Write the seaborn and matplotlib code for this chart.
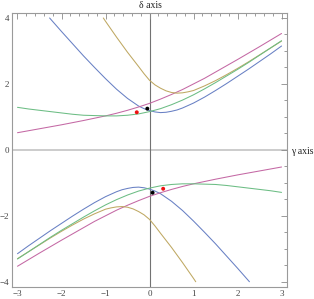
import matplotlib
matplotlib.use("Agg")
import matplotlib.pyplot as plt
from matplotlib.ticker import MultipleLocator
import seaborn as sns

# upper / lower branches of each curve (gamma, delta)
blue_up_g = [-2.27, -2.0, -1.75, -1.5, -1.25, -1.0, -0.75, -0.5, -0.25, -0.125, 0.0, 0.125,
             0.25, 0.375, 0.5, 0.625, 0.75, 1.0, 1.25, 1.5, 1.75, 2.0, 2.25, 2.5, 2.75, 3.0]
blue_up_d = [4.00, 3.59, 3.22, 2.85, 2.50, 2.16, 1.84, 1.56, 1.33, 1.25, 1.19, 1.15,
             1.13, 1.14, 1.17, 1.21, 1.27, 1.42, 1.60, 1.80, 2.01, 2.23, 2.45, 2.68, 2.91, 3.15]
blue_lo_g = [-3.0, -2.75, -2.5, -2.25, -2.0, -1.75, -1.5, -1.25, -1.0, -0.75, -0.625, -0.5,
             -0.375, -0.25, -0.125, 0.0, 0.125, 0.25, 0.5, 0.75, 1.0, 1.25, 1.5, 1.75, 2.0, 2.27]
blue_lo_d = [-3.15, -2.91, -2.68, -2.45, -2.23, -2.01, -1.80, -1.60, -1.42, -1.27, -1.21, -1.17,
             -1.14, -1.13, -1.15, -1.19, -1.25, -1.33, -1.56, -1.84, -2.16, -2.50, -2.85, -3.22, -3.59, -4.00]

pink_up_g = [-3.0, -2.5, -2.0, -1.5, -1.0, -0.75, -0.5, -0.25, 0.0, 0.25, 0.5, 0.75,
             1.0, 1.25, 1.5, 2.0, 2.5, 3.0]
pink_up_d = [0.52, 0.64, 0.76, 0.89, 1.03, 1.11, 1.20, 1.30, 1.41, 1.54, 1.68, 1.83,
             2.00, 2.17, 2.36, 2.74, 3.13, 3.53]
pink_lo_g = [-3.0, -2.5, -2.0, -1.5, -1.25, -1.0, -0.75, -0.5, -0.25, 0.0, 0.25, 0.5,
             0.75, 1.0, 1.5, 2.0, 2.5, 3.0]
pink_lo_d = [-3.53, -3.13, -2.74, -2.36, -2.17, -2.00, -1.83, -1.68, -1.54, -1.41, -1.30, -1.20,
             -1.11, -1.03, -0.89, -0.76, -0.64, -0.52]

green_g = [-3.0, -2.75, -2.5, -2.25, -2.0, -1.75, -1.5, -1.25, -1.0, -0.75, -0.5, -0.25, 0.0,
           0.25, 0.5, 0.75, 1.0, 1.25, 1.5, 1.75, 2.0, 2.25, 2.5, 2.75, 3.0]
green_up_d = [1.29, 1.24, 1.20, 1.16, 1.12, 1.08, 1.05, 1.04, 1.03, 1.03, 1.05, 1.09, 1.16,
              1.25, 1.37, 1.51, 1.67, 1.85, 2.04, 2.24, 2.44, 2.65, 2.87, 3.09, 3.31]
green_lo_d = [-3.31, -3.09, -2.87, -2.65, -2.44, -2.24, -2.04, -1.85, -1.67, -1.51, -1.37, -1.25, -1.16,
              -1.09, -1.05, -1.03, -1.03, -1.04, -1.05, -1.08, -1.12, -1.16, -1.20, -1.24, -1.29]

olive_up_g = [-1.05, -1.0, -0.75, -0.5, -0.25, -0.125, 0.0, 0.125, 0.25, 0.375, 0.5, 0.625,
              0.75, 0.875, 1.0, 1.25, 1.5, 1.75, 2.0, 2.25, 2.5, 2.75, 3.0]
olive_up_d = [4.00, 3.90, 3.42, 2.96, 2.53, 2.31, 2.11, 1.97, 1.87, 1.79, 1.74, 1.72,
              1.73, 1.76, 1.80, 1.94, 2.10, 2.28, 2.47, 2.67, 2.88, 3.09, 3.30]
olive_lo_g = [-3.0, -2.75, -2.5, -2.25, -2.0, -1.75, -1.5, -1.25, -1.0, -0.875, -0.75, -0.625,
              -0.5, -0.375, -0.25, -0.125, 0.0, 0.125, 0.25, 0.5, 0.75, 1.0, 1.05]
olive_lo_d = [-3.30, -3.09, -2.88, -2.67, -2.47, -2.28, -2.10, -1.94, -1.80, -1.76, -1.73, -1.72,
              -1.74, -1.79, -1.87, -1.97, -2.11, -2.31, -2.53, -2.96, -3.42, -3.90, -4.00]

black_g = [-0.05, 0.07]
black_d = [1.25, -1.30]
red_g = [-0.29, 0.31]
red_d = [1.14, -1.18]

x_ticks = [-3, -2, -1, 0, 1, 2, 3]
y_ticks = [-4, -2, 0, 2, 4]

sns.set_style("white")
plt.rcParams['font.family'] = ['Liberation Serif', 'DejaVu Serif']

fig = plt.figure(figsize=(3.14, 2.99), dpi=100)
ax = fig.add_axes([0.0382, 0.0401, 0.876, 0.9174])

ax.axhline(0, color='#c8c8c8', lw=1.3, zorder=0)
ax.axvline(0, color='#727272', lw=0.8, zorder=0)

curves = [
    (blue_up_g, blue_up_d, '#6880c4'),
    (blue_lo_g, blue_lo_d, '#6880c4'),
    (pink_up_g, pink_up_d, '#c468a4'),
    (pink_lo_g, pink_lo_d, '#c468a4'),
    (olive_up_g, olive_up_d, '#bfa862'),
    (olive_lo_g, olive_lo_d, '#bfa862'),
    (green_g, green_up_d, '#6cbd84'),
    (green_g, green_lo_d, '#6cbd84'),
]
for g, d, c in curves:
    sns.lineplot(x=g, y=d, ax=ax, color=c, lw=0.75, sort=False, estimator=None)

sns.scatterplot(x=black_g, y=black_d, ax=ax, color='black', s=8, edgecolor='none', zorder=5)
sns.scatterplot(x=red_g, y=red_d, ax=ax, color='#ee1111', s=8, edgecolor='none', zorder=5)

ax.set_xlim(-3.125, 3.125)
ax.set_ylim(-4.16, 4.16)
ax.set_xticks(x_ticks)
ax.set_yticks(y_ticks)
ax.xaxis.set_minor_locator(MultipleLocator(0.2))
ax.yaxis.set_minor_locator(MultipleLocator(0.5))
ax.tick_params(which='both', direction='in', top=True, right=True, color='#8a8a8a',
               labelcolor='#444444', labelsize=6.5, pad=2, width=0.6)
ax.tick_params(which='major', length=4)
ax.tick_params(which='minor', length=2)
for s in ax.spines.values():
    s.set_color('#9a9a9a')
    s.set_linewidth(0.8)
ax.set_xlabel('')
ax.set_ylabel('')

fig.text(150 / 314, 1 - 6 / 299, 'δ axis', ha='center', va='center', fontsize=7, color='#222222')
fig.text(291 / 314, 1 - 152 / 299, 'γ axis', ha='left', va='center', fontsize=7, color='#222222')

fig.savefig('out.png', dpi=100)
